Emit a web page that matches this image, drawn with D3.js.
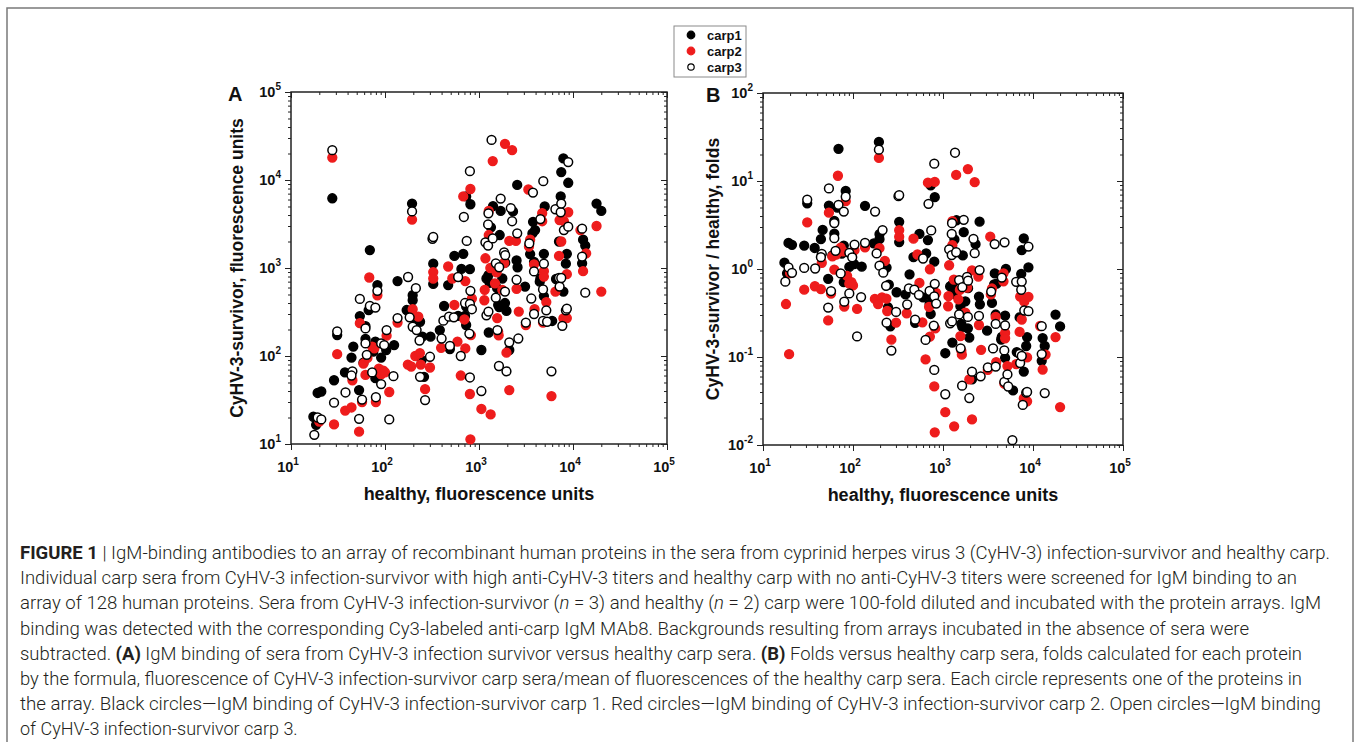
<!DOCTYPE html>
<html>
<head>
<meta charset="utf-8">
<script src="https://cdnjs.cloudflare.com/ajax/libs/d3/7.8.5/d3.min.js"></script>
<style>
  body { margin: 0; background: #fff; }
  svg { display: block; }
</style>
</head>
<body>
<svg id="fig" width="1356" height="742"></svg>
<script>
// healthy (x) vs survivor (y) fluorescence, one [x, y] pair per protein
const carp1 = [
  [17.3,20.4],[18.5,16.5],[19.2,38],[21,39.5],[27.5,6200],[28.7,53],[31,173],[37.5,65],[44,96],[46,128],
  [54,284],[53,41],[59,84],[62,218],[62,156],[67,333],[69,1600],[83,640],[79,146],[79,56],
  [91,96],[75,112],[103,117],[125,133],[136,710],[170,333],[194,5400],[197,490],[197,430],[217,240],
  [236,245],[245,90],[260,58],[250,166],[305,166],[326,1120],[326,660],[383,197],[425,370],[470,640],
  [490,120],[547,1370],[600,285],[650,975],[680,1450],[710,285],[730,6500],[730,365],[730,225],[800,970],
  [810,5300],[1060,117],[1200,760],[1260,830],[1300,680],[1270,185],[1340,2900],[1410,5050],[1560,590],[1600,380],
  [1640,360],[1660,2370],[1700,4450],[1770,760],[1890,400],[1900,1150],[1960,325],[2100,117],[2300,4400],[2510,1220],
  [2570,1020],[2550,8800],[3090,615],[3500,1440],[3700,2470],[3950,2700],[3760,3350],[3850,1170],[4430,700],[4500,760],
  [4900,1450],[4900,480],[5000,5000],[6000,250],[6600,750],[7100,2000],[7400,6500],[7500,12300],[7900,17600],[7900,540],
  [8400,1120],[8600,1450],[8900,9300],[12500,1130],[12800,2100],[13500,1800],[17800,5400],[20000,4450]
];
const carp2 = [
  [18,7.2],[19.5,2.1],[20,18],[27.5,18000],[28.7,16.7],[31,105],[37.7,24],[44,26],[45,53],[54,236],
  [53,13.8],[57,30],[59,82],[62,61],[65,95],[68,780],[73,128],[77,122],[80,30],[83,490],
  [86,72],[91,62],[96,68],[100,65],[104,170],[111,39],[136,240],[175,80],[190,76],[194,3550],
  [197,340],[210,100],[226,280],[235,108],[240,80],[267,42],[301,74],[326,900],[326,760],[395,124],
  [470,1040],[520,760],[547,380],[590,146],[640,60],[680,6500],[700,260],[715,710],[715,122],[800,37],
  [810,7900],[810,11.3],[820,173],[840,450],[1060,25],[1150,565],[1140,430],[1170,1290],[1270,4450],[1270,2370],
  [1320,1000],[1330,21.7],[1400,16400],[1480,670],[1540,890],[1560,270],[1600,188],[1620,172],[1770,565],[1850,1140],
  [1890,25800],[1960,109],[2100,2030],[2100,41],[2250,21800],[2470,2030],[2510,580],[2650,320],[3150,225],[3350,7800],
  [3400,1750],[3500,2100],[3850,1100],[3900,340],[4700,3400],[4700,4200],[4800,240],[4900,920],[4900,800],[5200,410],
  [5900,35],[6500,540],[7100,1370],[7200,3500],[7500,2000],[7900,268],[8000,3400],[8600,850],[8600,270],[8900,4300],
  [12000,2700],[12800,920],[13800,1470],[17800,3000],[20000,540]
];
const carp3 = [
  [17.7,12.7],[19.2,20],[21,19],[27.5,21800],[28.7,29.5],[31,190],[38,38.5],[45,67],[44,60],[54,445],
  [53,19.3],[57,32],[62,206],[62,139],[64,103],[69,370],[73,65],[79,355],[80,34],[83,550],
  [91,139],[91,48],[98,133],[104,197],[111,19],[123,59],[136,270],[176,790],[183,275],[194,4400],
  [197,215],[213,590],[217,197],[233,150],[236,58],[267,31.6],[301,98],[320,2150],[326,2250],[400,158],
  [418,252],[480,280],[490,130],[540,275],[600,790],[640,100],[690,3800],[710,400],[740,2030],[790,180],
  [800,12600],[800,57],[810,550],[800,390],[840,340],[1060,40],[1170,1960],[1200,290],[1250,1800],[1250,3130],
  [1260,320],[1260,4180],[1360,28500],[1400,2170],[1510,1130],[1510,460],[1570,197],[1630,77],[1640,1020],[1700,6150],
  [1850,1500],[1890,540],[1900,1400],[1960,67],[2100,143],[2180,4800],[2250,3400],[2510,735],[2550,2480],[2620,158],
  [3150,240],[3430,1900],[3600,450],[3750,7200],[3850,915],[3850,300],[4500,3600],[4800,570],[4800,250],[4830,9700],
  [4900,1120],[5200,330],[5300,245],[5900,67],[6500,4650],[7100,770],[7200,615],[7400,4300],[7500,5400],[7500,770],
  [7700,220],[8000,2700],[8400,330],[8600,345],[8900,16000],[8900,2950],[12500,2800],[12500,1350],[13500,525]
];
const seriesNames = ["carp1", "carp2", "carp3"];
const xExponents = [1, 2, 3, 4, 5];
const yExponentsA = [1, 2, 3, 4, 5];
const yExponentsB = [-2, -1, 0, 1, 2];

const svg = d3.select("#fig");
const font = "Liberation Sans, Arial, sans-serif";
const series = [
  { name: seriesNames[0], data: carp1, fill: "#000", stroke: "#000" },
  { name: seriesNames[1], data: carp2, fill: "#ee1c1c", stroke: "#ee1c1c" },
  { name: seriesNames[2], data: carp3, fill: "#fff", stroke: "#000" }
];

// outer figure frame
svg.append("rect").attr("x", 7).attr("y", 8).attr("width", 1346).attr("height", 800)
  .attr("fill", "none").attr("stroke", "#7a7a7a").attr("stroke-width", 1.5);

function minors(lo, hi) {
  const v = [];
  for (let e = lo; e < hi; e++) for (let k = 2; k <= 9; k++) v.push(k * Math.pow(10, e));
  return v;
}

function supLabel(sel, e) {
  sel.append("tspan").text("10");
  sel.append("tspan").attr("dy", -7).attr("font-size", 10).text(e);
}

function drawPanel(p) {
  const x = d3.scaleLog().domain([10, 1e5]).range([p.left, p.right]);
  const y = d3.scaleLog().domain(p.yDomain).range([p.bottom, p.top]);
  const g = svg.append("g");
  const yLo = Math.log10(p.yDomain[0]), yHi = Math.log10(p.yDomain[1]);
  const xMaj = xExponents.map(e => Math.pow(10, e));
  const yMaj = p.yExp.map(e => Math.pow(10, e));

  const axes = [
    [d3.axisBottom(x).tickValues(xMaj).tickSize(6), "translate(0," + p.bottom + ")"],
    [d3.axisBottom(x).tickValues(minors(1, 5)).tickSize(3), "translate(0," + p.bottom + ")"],
    [d3.axisTop(x).tickValues(xMaj).tickSize(-6), "translate(0," + p.top + ")"],
    [d3.axisTop(x).tickValues(minors(1, 5)).tickSize(-3), "translate(0," + p.top + ")"],
    [d3.axisLeft(y).tickValues(yMaj).tickSize(6), "translate(" + p.left + ",0)"],
    [d3.axisLeft(y).tickValues(minors(yLo, yHi)).tickSize(3), "translate(" + p.left + ",0)"],
    [d3.axisRight(y).tickValues(yMaj).tickSize(-6), "translate(" + p.right + ",0)"],
    [d3.axisRight(y).tickValues(minors(yLo, yHi)).tickSize(-3), "translate(" + p.right + ",0)"]
  ];
  axes.forEach(([ax, tr]) => {
    const a = g.append("g").attr("transform", tr).call(ax.tickFormat(""));
    a.select(".domain").remove();
    a.selectAll("line").attr("stroke", "#222").attr("stroke-width", 1);
  });

  g.append("rect").attr("x", p.left).attr("y", p.top)
    .attr("width", p.right - p.left).attr("height", p.bottom - p.top)
    .attr("fill", "none").attr("stroke", "#222").attr("stroke-width", 1.5);

  // tick labels
  xExponents.forEach(e => {
    g.append("text").attr("x", x(Math.pow(10, e)) - 3).attr("y", p.bottom + 28)
      .attr("text-anchor", "middle").attr("font-family", font)
      .attr("font-weight", "bold").attr("font-size", 14.5).attr("fill", "#111")
      .call(supLabel, e);
  });
  p.yExp.forEach(e => {
    g.append("text").attr("x", p.left - 10).attr("y", y(Math.pow(10, e)) + 5)
      .attr("text-anchor", "end").attr("font-family", font)
      .attr("font-weight", "bold").attr("font-size", 14.5).attr("fill", "#111")
      .call(supLabel, e);
  });

  // titles
  g.append("text").attr("x", (p.left + p.right) / 2).attr("y", p.bottom + 56)
    .attr("text-anchor", "middle").attr("font-family", font)
    .attr("font-weight", "bold").attr("font-size", 18).attr("fill", "#111").text(p.xTitle);
  g.append("text").attr("transform", "translate(" + p.yTitleX + "," + ((p.top + p.bottom) / 2) + ") rotate(-90)")
    .attr("text-anchor", "middle").attr("font-family", font)
    .attr("font-weight", "bold").attr("font-size", 17.5).attr("fill", "#111").text(p.yTitle);
  g.append("text").attr("x", p.labelX).attr("y", p.top + 9)
    .attr("font-family", font)
    .attr("font-weight", "bold").attr("font-size", 20).attr("fill", "#111").text(p.label);

  // points
  const [y0, y1] = p.yDomain;
  series.forEach(s => {
    const pts = s.data.map(d => [d[0], p.yValue(d)]).filter(d => d[1] >= y0 && d[1] <= y1);
    g.append("g").selectAll("circle").data(pts).enter().append("circle")
      .attr("cx", d => x(d[0])).attr("cy", d => y(d[1])).attr("r", 4.4)
      .attr("fill", s.fill).attr("stroke", s.stroke).attr("stroke-width", 1.5);
  });
}

drawPanel({
  left: 291, right: 667, top: 92, bottom: 444, yDomain: [10, 1e5], yExp: yExponentsA,
  yValue: d => d[1], label: "A", labelX: 228, yTitleX: 243,
  xTitle: "healthy, fluorescence units", yTitle: "CyHV-3-survivor, fluorescence units"
});
drawPanel({
  left: 763, right: 1123, top: 93, bottom: 445, yDomain: [0.01, 100], yExp: yExponentsB,
  yValue: d => d[1] / d[0], label: "B", labelX: 706, yTitleX: 719,
  xTitle: "healthy, fluorescence units", yTitle: "CyHV-3-survivor / healthy, folds"
});

// legend
const lg = svg.append("g");
lg.append("rect").attr("x", 674).attr("y", 26).attr("width", 72).attr("height", 51)
  .attr("fill", "#fff").attr("stroke", "#8a8a8a").attr("stroke-width", 1);
series.forEach((s, i) => {
  const cy = 35 + i * 16;
  lg.append("circle").attr("cx", 691).attr("cy", cy).attr("r", s.name === "carp3" ? 3.2 : 3.8)
    .attr("fill", s.fill).attr("stroke", s.stroke).attr("stroke-width", 1.2);
  lg.append("text").attr("x", 707).attr("y", cy + 4.5)
    .attr("font-family", font).attr("font-weight", "bold")
    .attr("font-size", 13).attr("fill", "#111").text(s.name);
});

// caption (line widths as laid out in the journal figure)
const caption = [
  [["FIGURE 1", "b"], [" | IgM-binding antibodies to an array of recombinant human proteins in the sera from cyprinid herpes virus 3 (CyHV-3) infection-survivor and healthy carp.", ""]],
  [["Individual carp sera from CyHV-3 infection-survivor with high anti-CyHV-3 titers and healthy carp with no anti-CyHV-3 titers were screened for IgM binding to an", ""]],
  [["array of 128 human proteins. Sera from CyHV-3 infection-survivor (", ""], ["n", "i"], [" = 3) and healthy (", ""], ["n", "i"], [" = 2) carp were 100-fold diluted and incubated with the protein arrays. IgM", ""]],
  [["binding was detected with the corresponding Cy3-labeled anti-carp IgM MAb8. Backgrounds resulting from arrays incubated in the absence of sera were", ""]],
  [["subtracted. ", ""], ["(A)", "b"], [" IgM binding of sera from CyHV-3 infection survivor versus healthy carp sera. ", ""], ["(B)", "b"], [" Folds versus healthy carp sera, folds calculated for each protein", ""]],
  [["by the formula, fluorescence of CyHV-3 infection-survivor carp sera/mean of fluorescences of the healthy carp sera. Each circle represents one of the proteins in", ""]],
  [["the array. Black circles\u2014IgM binding of CyHV-3 infection-survivor carp 1. Red circles\u2014IgM binding of CyHV-3 infection-survivor carp 2. Open circles\u2014IgM binding", ""]],
  [["of CyHV-3 infection-survivor carp 3.", ""]]
];
const captionWidths = [1310, 1277, 1301, 1229, 1282, 1282, 1301, null];
const cap = svg.append("g").attr("font-family", "Roboto, sans-serif").attr("font-weight", 300)
  .attr("font-size", 18).attr("fill", "#231f20");
caption.forEach((line, i) => {
  const t = cap.append("text").attr("x", 20).attr("y", 559 + i * 25.2);
  if (captionWidths[i]) t.attr("textLength", captionWidths[i]).attr("lengthAdjust", "spacingAndGlyphs");
  line.forEach(([txt, st]) => {
    const ts = t.append("tspan").text(txt);
    if (st === "b") ts.attr("font-weight", 700);
    if (st === "i") ts.attr("font-style", "italic");
  });
});
</script>
</body>
</html>
